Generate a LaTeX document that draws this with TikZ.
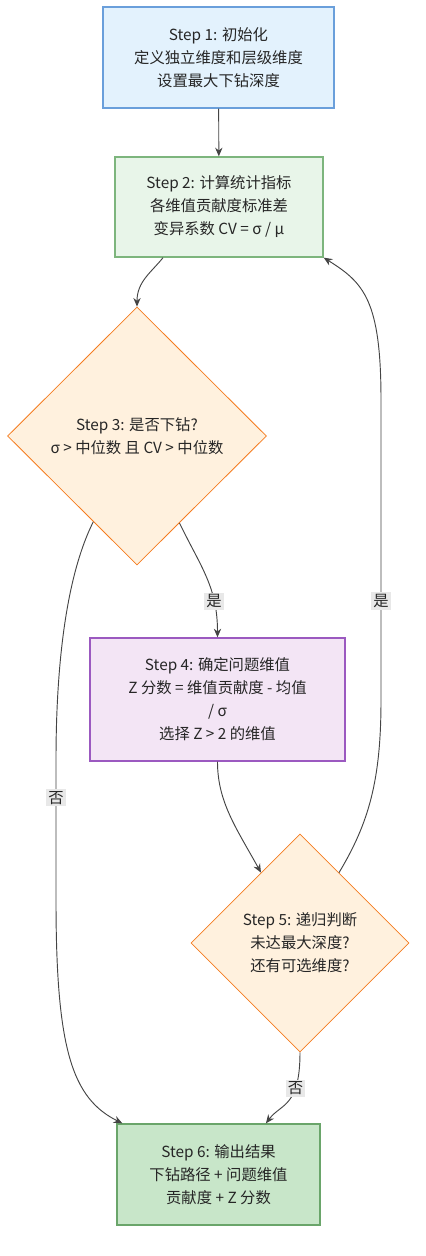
\documentclass[tikz,border=0pt]{standalone}
\usepackage{fontspec}
\setmainfont{Noto Sans CJK SC}
\usetikzlibrary{shapes.geometric,arrows.meta}
\definecolor{initfill}{HTML}{E3F2FD}
\definecolor{initline}{HTML}{6A9FDB}
\definecolor{statfill}{HTML}{E8F5E9}
\definecolor{statline}{HTML}{7DB57D}
\definecolor{decfill}{HTML}{FFF1DE}
\definecolor{decline}{HTML}{F57C1F}
\definecolor{targfill}{HTML}{F3E5F5}
\definecolor{targline}{HTML}{9B59C0}
\definecolor{outfill}{HTML}{C8E6C9}
\definecolor{outline}{HTML}{6AA56A}
\definecolor{linkgray}{HTML}{444444}
\definecolor{lblfill}{HTML}{E8E8E8}

\begin{document}
\begin{tikzpicture}[x=0.75pt,y=-0.75pt,
  every node/.style={align=center,text=black!85,
    font=\fontsize{11.5pt}{17.25pt}\selectfont},
  stepbox/.style={draw,rectangle,line width=1pt},
  decide/.style={draw=decline,fill=decfill,diamond,aspect=1,
    inner sep=0pt,line width=0.6pt},
  link/.style={draw=linkgray,line width=0.7pt,->},
  answer/.style={fill=lblfill,inner sep=1.5pt},
  >={Stealth[length=6.5pt,width=5.5pt]}]
\useasboundingbox (0,0) rectangle (425,1256);

%% Steps
\node[stepbox,draw=initline,fill=initfill,
  minimum width=173.25pt,minimum height=75.75pt] (init) at (218.5,57.5)
  {Step 1: 初始化\\定义独立维度和层级维度\\设置最大下钻深度};
\node[stepbox,draw=statline,fill=statfill,
  minimum width=156pt,minimum height=75pt] (stats) at (219,207)
  {Step 2: 计算统计指标\\各维值贡献度标准差\\变异系数 CV = σ / μ};
\node[decide,minimum width=194.25pt,minimum height=193.5pt] (drill) at (137,436)
  {Step 3: 是否下钻?\\σ > 中位数 且 CV > 中位数};
\node[stepbox,draw=targline,fill=targfill,
  minimum width=191.25pt,minimum height=92.25pt] (target) at (217.5,699.5)
  {Step 4: 确定问题维值\\Z 分数 = 维值贡献度 - 均值\\/ σ\\选择 Z > 2 的维值};
\node[decide,minimum width=163.5pt,minimum height=163.5pt] (recur) at (300,943)
  {Step 5: 递归判断\\未达最大深度?\\还有可选维度?};
\node[stepbox,draw=outline,fill=outfill,
  minimum width=152.25pt,minimum height=75.75pt] (output) at (218.5,1174.5)
  {Step 6: 输出结果\\下钻路径 + 问题维值\\贡献度 + Z 分数};

%% Links
\draw[link] (init) -- (stats);
\draw[link] ([xshift=-42pt]stats.south) .. controls +(-12,15) and +(0,-25) .. (drill.north);
\draw[link] (drill.-64) .. controls +(22,45) and +(0,-50) .. (target.north)
  node[answer,pos=0.72] {是};
\draw[link] (drill.-117) .. controls +(-30,60) and +(0,-80) .. (56,760)
  -- (56,900) node[answer,pos=0.27] {否}
  .. controls +(0,150) and +(-50,-25) .. ([xshift=4.5pt]output.north west);
\draw[link] (target.south) .. controls +(0,40) and +(-25,-45) .. (recur.119);
\draw[link] (recur.61) .. controls +(30,-50) and +(0,80) .. (381,700)
  -- (381,400) node[answer,pos=0.33] {是}
  .. controls +(0,-100) and +(40,25) .. (stats.south east);
\draw[link] (recur.south) .. controls +(0,55) and +(15,-20) .. ([xshift=35.6pt]output.north)
  node[answer,pos=0.3] {否};
\end{tikzpicture}
\end{document}
